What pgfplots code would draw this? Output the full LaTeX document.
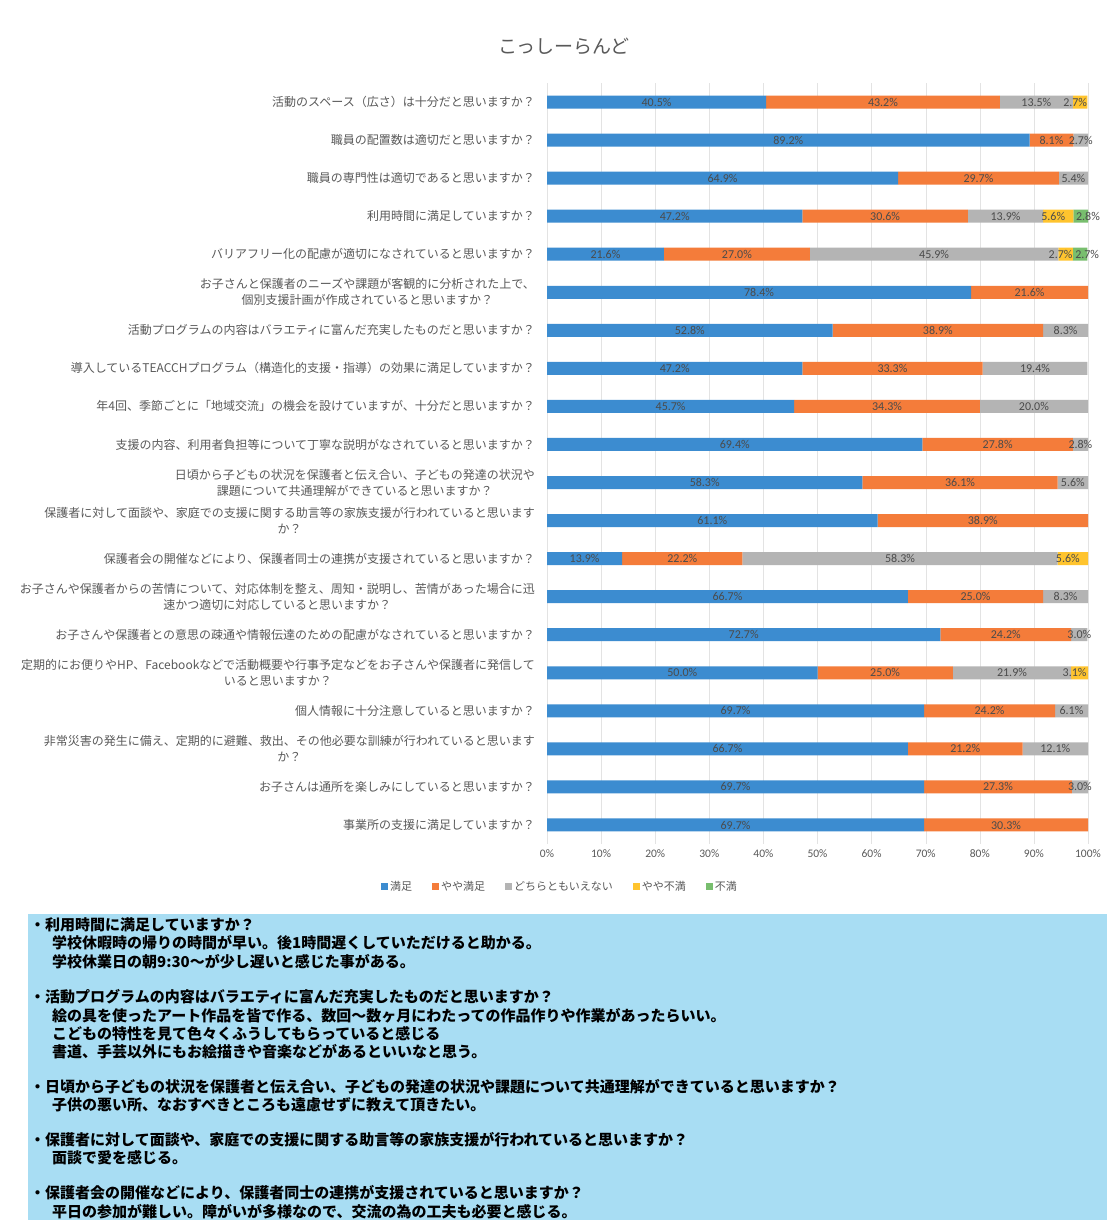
\documentclass[border=0pt]{standalone}
\usepackage{fontspec}
\usepackage{pgfplots}
\usepackage{pgfplotstable}
\pgfplotsset{compat=1.18}
\setmainfont{Noto Sans CJK JP}
\newfontfamily\jp{Noto Sans CJK JP}
\newfontfamily\carlito{Carlito}
\definecolor{cblue}{RGB}{60,140,208}
\definecolor{corange}{RGB}{244,124,58}
\definecolor{cgrey}{RGB}{180,180,180}
\definecolor{cyellow}{RGB}{255,196,46}
\definecolor{cgreen}{RGB}{120,190,110}
\definecolor{txtgrey}{RGB}{89,89,89}
\definecolor{lblgrey}{RGB}{75,75,75}
\definecolor{boxblue}{RGB}{168,221,243}
\newcommand\bx{\jp\bfseries\fontsize{15}{18}\selectfont}

\pgfplotstableread{
q a b c d e
0 40.5 43.2 13.5 2.7 0
1 89.2 8.1 2.7 0 0
2 64.9 29.7 5.4 0 0
3 47.2 30.6 13.9 5.6 2.8
4 21.6 27.0 45.9 2.7 2.7
5 78.4 21.6 0 0 0
6 52.8 38.9 8.3 0 0
7 47.2 33.3 19.4 0 0
8 45.7 34.3 20.0 0 0
9 69.4 27.8 2.8 0 0
10 58.3 36.1 5.6 0 0
11 61.1 38.9 0 0 0
12 13.9 22.2 58.3 5.6 0
13 66.7 25.0 8.3 0 0
14 72.7 24.2 3.0 0 0
15 50.0 25.0 21.9 3.1 0
16 69.7 24.2 6.1 0 0
17 66.7 21.2 12.1 0 0
18 69.7 27.3 3.0 0 0
19 69.7 30.3 0 0 0
}\data
\pgfplotstablecreatecol[create col/expr={\thisrow{a}/2}]{ca}\data
\pgfplotstablecreatecol[create col/expr={\thisrow{a}+\thisrow{b}/2}]{cb}\data
\pgfplotstablecreatecol[create col/expr={\thisrow{a}+\thisrow{b}+\thisrow{c}/2}]{cc}\data
\pgfplotstablecreatecol[create col/expr={\thisrow{a}+\thisrow{b}+\thisrow{c}+\thisrow{d}/2}]{cd}\data
\pgfplotstablecreatecol[create col/expr={\thisrow{a}+\thisrow{b}+\thisrow{c}+\thisrow{d}+\thisrow{e}/2}]{ce}\data

\pgfplotsset{
  geom/.style={
    at={(547pt,-83pt)}, anchor=north west,
    scale only axis, width=541pt, height=761pt,
    xmin=0, xmax=100, ymin=-0.5, ymax=19.5,
    y dir=reverse,
  },
  lbl/.style={
    only marks, mark=none,
    point meta={\thisrow{#1}},
    restrict expr to domain={\thisrow{#1}}{0.05:200},
    nodes near coords={\pgfmathprintnumber[fixed,fixed zerofill,precision=1,assume math mode=true]{\pgfplotspointmeta}\%},
    every node near coord/.append style={anchor=center, text=lblgrey, inner sep=0pt,
      font=\carlito\fontsize{12}{14}\selectfont},
  }
}

\begin{document}
\begin{tikzpicture}
\useasboundingbox[fill=white] (0,0) rectangle (1107pt,-1220pt);
\node[font=\jp\fontsize{19}{21}\selectfont, text=txtgrey] at (564pt,-46pt) {こっしーらんど};
\begin{axis}[
  geom,
  xbar stacked, bar width=13pt,
  axis line style={draw=none},
  tick style={draw=none},
  xmajorgrids, major grid style={draw=gray!22},
  xtick={0,10,...,100},
  xticklabels={0\%,10\%,20\%,30\%,40\%,50\%,60\%,70\%,80\%,90\%,100\%},
  xticklabel style={font=\carlito\fontsize{11.5}{13}\selectfont, text=txtgrey, yshift=-2pt},
  ytick={0,...,19},
  yticklabels={
    {活動のスペース（広さ）は十分だと思いますか？},
    {職員の配置数は適切だと思いますか？},
    {職員の専門性は適切であると思いますか？},
    {利用時間に満足していますか？},
    {バリアフリー化の配慮が適切になされていると思いますか？},
    {お子さんと保護者のニーズや課題が客観的に分析された上で、\\個別支援計画が作成されていると思いますか？},
    {活動プログラムの内容はバラエティに富んだ充実したものだと思いますか？},
    {導入しているTEACCHプログラム（構造化的支援・指導）の効果に満足していますか？},
    {年4回、季節ごとに「地域交流」の機会を設けていますが、十分だと思いますか？},
    {支援の内容、利用者負担等について丁寧な説明がなされていると思いますか？},
    {日頃から子どもの状況を保護者と伝え合い、子どもの発達の状況や\\課題について共通理解ができていると思いますか？},
    {保護者に対して面談や、家庭での支援に関する助言等の家族支援が行われていると思います\\か？},
    {保護者会の開催などにより、保護者同士の連携が支援されていると思いますか？},
    {お子さんや保護者からの苦情について、対応体制を整え、周知・説明し、苦情があった場合に迅\\速かつ適切に対応していると思いますか？},
    {お子さんや保護者との意思の疎通や情報伝達のための配慮がなされていると思いますか？},
    {定期的にお便りやHP、Facebookなどで活動概要や行事予定などをお子さんや保護者に発信して\\いると思いますか？},
    {個人情報に十分注意していると思いますか？},
    {非常災害の発生に備え、定期的に避難、救出、その他必要な訓練が行われていると思います\\か？},
    {お子さんは通所を楽しみにしていると思いますか？},
    {事業所の支援に満足していますか？}
  },
  yticklabel style={font=\jp\fontsize{12}{16}\selectfont, text=txtgrey, align=center, inner sep=0pt, xshift=-12pt},
  legend style={at={(0.024,-0.056)}, anchor=center, draw=none, fill=none,
    font=\jp\fontsize{11}{13}\selectfont, text=txtgrey,
    /tikz/every even column/.append style={column sep=18pt}},
  legend columns=-1,
  legend image code/.code={\fill[#1,draw=none] (0pt,-3.5pt) rectangle (7pt,3.5pt);},
]
\addplot[fill=cblue, draw=none] table[x=a, y=q]{\data};
\addplot[fill=corange, draw=none] table[x=b, y=q]{\data};
\addplot[fill=cgrey, draw=none] table[x=c, y=q]{\data};
\addplot[fill=cyellow, draw=none] table[x=d, y=q]{\data};
\addplot[fill=cgreen, draw=none] table[x=e, y=q]{\data};
\legend{満足,やや満足,どちらともいえない,やや不満,不満}
\end{axis}
\begin{axis}[geom, hide axis]
\addplot[lbl=a] table[x=ca, y=q]{\data};
\addplot[lbl=b] table[x=cb, y=q]{\data};
\addplot[lbl=c] table[x=cc, y=q]{\data};
\addplot[lbl=d, every node near coord/.append style={xshift=-5pt}] table[x=cd, y=q]{\data};
\addplot[lbl=e, every node near coord/.append style={xshift=7pt}] table[x=ce, y=q]{\data};
\end{axis}
\fill[boxblue] (28pt,-914pt) rectangle (1107pt,-1220pt);
\begin{scope}[every node/.style={anchor=west, inner sep=0pt, font=\bx, text=black}]
\node at (30pt,-925pt) {・利用時間に満足していますか？};
\node at (52pt,-943pt) {学校休暇時の帰りの時間が早い。後1時間遅くしていただけると助かる。};
\node at (52pt,-962pt) {学校休業日の朝9:30～が少し遅いと感じた事がある。};
\node at (30pt,-997pt) {・活動プログラムの内容はバラエティに富んだ充実したものだと思いますか？};
\node at (52pt,-1016pt) {絵の具を使ったアート作品を皆で作る、数回～数ヶ月にわたっての作品作りや作業があったらいい。};
\node at (52pt,-1034pt) {こどもの特性を見て色々くふうしてもらっていると感じる};
\node at (52pt,-1052pt) {書道、手芸以外にもお絵描きや音楽などがあるといいなと思う。};
\node at (30pt,-1087pt) {・日頃から子どもの状況を保護者と伝え合い、子どもの発達の状況や課題について共通理解ができていると思いますか？};
\node at (52pt,-1105pt) {子供の悪い所、なおすべきところも遠慮せずに教えて頂きたい。};
\node at (30pt,-1140pt) {・保護者に対して面談や、家庭での支援に関する助言等の家族支援が行われていると思いますか？};
\node at (52pt,-1158pt) {面談で愛を感じる。};
\node at (30pt,-1193pt) {・保護者会の開催などにより、保護者同士の連携が支援されていると思いますか？};
\node at (52pt,-1212pt) {平日の参加が難しい。障がいが多様なので、交流の為の工夫も必要と感じる。};
\end{scope}
\end{tikzpicture}
\end{document}
